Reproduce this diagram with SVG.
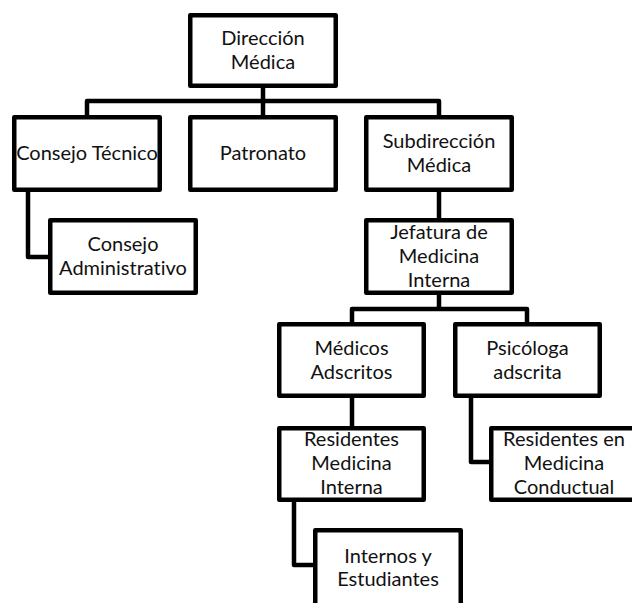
<svg xmlns="http://www.w3.org/2000/svg" width="632" height="603" viewBox="0 0 632 603">
<style>
.box{fill:#fff;stroke:#000;stroke-width:4.5;stroke-linejoin:round}
.con{fill:none;stroke:#000;stroke-width:4.5;stroke-linejoin:round}
text{font-family:Lato,"Liberation Sans",sans-serif;font-size:20px;fill:#111;text-anchor:middle;font-variant-ligatures:none}
</style>
<rect width="632" height="603" fill="#fff"/>
<g id="connectors">
<path class="con" d="M263 88V101M87 115V101H439V115M263 101V115"/>
<path class="con" d="M28 192V257H48"/>
<path class="con" d="M439 192V218"/>
<path class="con" d="M439 295V309M352 322V309H527V322"/>
<path class="con" d="M352 398V426"/>
<path class="con" d="M471 398V462H489"/>
<path class="con" d="M294 502V565H313"/>
</g>
<g id="direccion"><rect class="box" x="190.25" y="15.25" width="145.5" height="70.5"/><text x="263" y="45">Dirección</text><text x="263" y="69">Médica</text></g>
<g id="consejo-tecnico"><rect class="box" x="14.25" y="117.25" width="145.5" height="72.5"/><text x="87" y="160">Consejo Técnico</text></g>
<g id="patronato"><rect class="box" x="190.25" y="117.25" width="145.5" height="72.5"/><text x="263" y="160">Patronato</text></g>
<g id="subdireccion"><rect class="box" x="366.25" y="117.25" width="145.5" height="72.5"/><text x="439" y="148">Subdirección</text><text x="439" y="172">Médica</text></g>
<g id="consejo-admin"><rect class="box" x="50.25" y="220.25" width="145.5" height="72.5"/><text x="123" y="251">Consejo</text><text x="123" y="275">Administrativo</text></g>
<g id="jefatura"><rect class="box" x="366.25" y="220.25" width="145.5" height="72.5"/><text x="439" y="239">Jefatura de</text><text x="439" y="263">Medicina</text><text x="439" y="287">Interna</text></g>
<g id="medicos"><rect class="box" x="279.25" y="324.25" width="144.5" height="71.5"/><text x="351.5" y="355">Médicos</text><text x="351.5" y="379">Adscritos</text></g>
<g id="psicologa"><rect class="box" x="455.25" y="324.25" width="144.5" height="71.5"/><text x="527.5" y="355">Psicóloga</text><text x="527.5" y="379">adscrita</text></g>
<g id="residentes-mi"><rect class="box" x="279.25" y="428.25" width="144.5" height="71.5"/><text x="351.5" y="446">Residentes</text><text x="351.5" y="470">Medicina</text><text x="351.5" y="494">Interna</text></g>
<g id="residentes-mc"><rect class="box" x="491.25" y="428.25" width="145.5" height="71.5"/><text x="564" y="446">Residentes en</text><text x="564" y="470">Medicina</text><text x="564" y="494">Conductual</text></g>
<g id="internos"><rect class="box" x="315.25" y="530.25" width="145.5" height="76"/><text x="388" y="563">Internos y</text><text x="388" y="586">Estudiantes</text></g>
</svg>
